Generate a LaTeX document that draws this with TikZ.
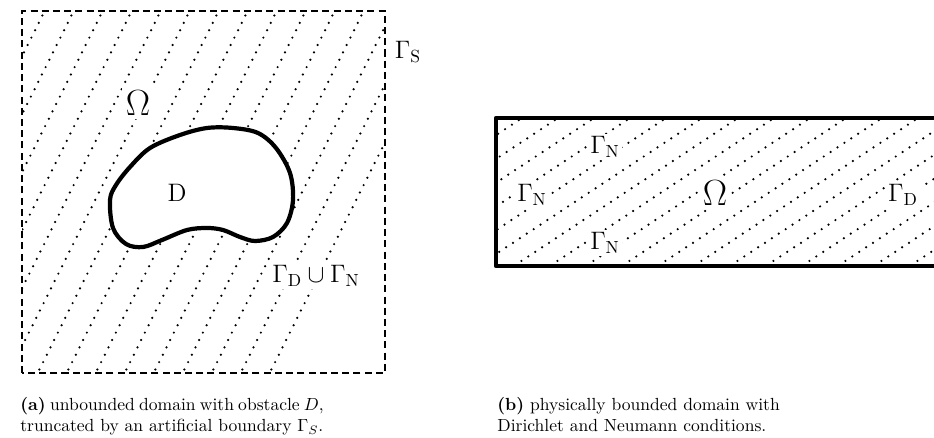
\documentclass[tikz,border=0pt]{standalone}
\usepackage{amsmath,amssymb}
\usepackage{tikz}
\usetikzlibrary{calc}
\tikzset{
  % ränder
  frame/.style={draw=black,line width=1.5pt,dash pattern=on 4pt off 2.4pt},
  wall/.style={draw=black,line width=2.4pt,line join=round},
  hatch/.style={draw=black,line width=1.4pt,line cap=round,dash pattern=on 0pt off 4.7pt},
  % texter
  bnd/.style={font=\Large,inner sep=1.5pt,fill=white},
  dom/.style={font=\huge,inner sep=2pt,fill=white},
  capt/.style={inner sep=0pt,align=justify,font=\normalsize},
}
\begin{document}
\begin{tikzpicture}[x=0.57pt,y=0.57pt]
  \useasboundingbox (0,0) rectangle (934,438);
  % (a) avskuret område med hinder
  \begin{scope}
  \clip (22,65) rectangle (385,427);
  \foreach \k in {-10,...,14}
    \draw[hatch] ({41.7+29*\k-250},-79) -- ({41.7+29*\k+50},521);
  \end{scope}
  \draw[frame] (22,65) rectangle (385,427);
  \draw[wall,fill=white] plot[smooth cycle,tension=0.55] coordinates {
    (110,238) (113,210) (126,194) (143,191) (162,198) (187,208)
    (207,210) (223,208) (240,201) (255,197) (273,201) (287,215)
    (293,238) (290,265) (276,290) (258,305) (233,310) (207,310)
    (180,303) (150,290) (130,271) (116,253)};
  \node[font=\Large,inner sep=1.5pt,anchor=west] (gammaS) at (392,386) {$\Gamma_{\mathrm{S}}$};
  \node[dom] (omegaA) at (138,335) {$\Omega$};
  \node[font=\Large] (obst) at (177,245) {D};
  \node[bnd] (gammaDN) at (316,162) {$\Gamma_{\mathrm{D}}\cup\Gamma_{\mathrm{N}}$};
  % (b) begränsat område
  \begin{scope}
  \clip (496,172) rectangle (940,320);
  \foreach \k in {-7,...,14}
    \draw[hatch] ({696+36*\k-300},118) -- ({696+36*\k+100},382);
  \end{scope}
  \draw[wall] (960,320) -- (496,320) -- (496,172) -- (960,172);
  \node[bnd] (gammaNtop) at (605,291) {$\Gamma_{\mathrm{N}}$};
  \node[bnd] (gammaNleft) at (532,243) {$\Gamma_{\mathrm{N}}$};
  \node[dom] (omegaB) at (715,245) {$\Omega$};
  \node[bnd] (gammaD) at (903,243) {$\Gamma_{\mathrm{D}}$};
  \node[bnd] (gammaNbot) at (605,195) {$\Gamma_{\mathrm{N}}$};
  % bildtexter
  \node[capt,text width=173pt,anchor=north west] (captA) at (20,41)
    {\textbf{(a)} unbounded domain with obstacle $D$, truncated by an artificial boundary $\Gamma_S$.};
  \node[capt,text width=161pt,anchor=north west] (captB) at (497,41)
    {\textbf{(b)} physically bounded domain with Dirichlet and Neumann conditions.};
\end{tikzpicture}
\end{document}
